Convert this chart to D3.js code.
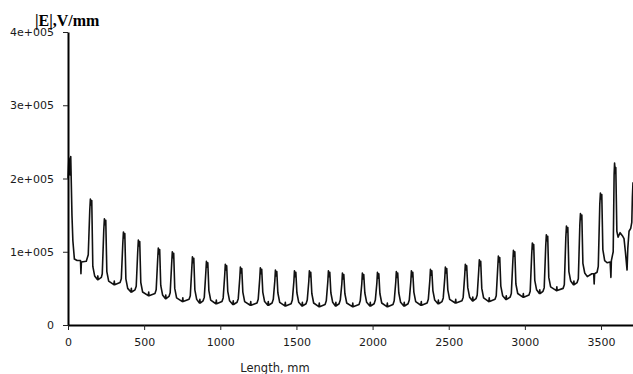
<!DOCTYPE html>
<html>
<head>
<meta charset="utf-8">
<script src="https://cdn.jsdelivr.net/npm/d3@7"></script>
<style>
  html, body { margin: 0; padding: 0; background: #fff; }
  svg { display: block; }
</style>
</head>
<body>
<svg id="chart" width="633" height="374"></svg>
<script>
// ---- data ----
const lengthMm = [
  0, 6, 12, 18, 26, 32, 42, 60, 82, 85, 88, 120,
  133, 143, 147, 152, 156, 163, 175, 193, 196, 198, 219,
  225, 235, 239, 244, 248, 255, 267, 301, 304, 306, 342,
  350, 360, 364, 369, 373, 380, 392, 413, 416, 418, 440,
  448, 458, 462, 467, 471, 478, 490, 527, 530, 532, 571,
  579, 589, 593, 598, 602, 609, 621, 639, 642, 644, 663,
  671, 681, 685, 690, 694, 701, 713, 751, 754, 756, 795,
  803, 813, 817, 822, 826, 833, 845, 863, 866, 868, 887,
  895, 905, 909, 914, 918, 925, 937, 971, 974, 976, 1011,
  1019, 1029, 1033, 1038, 1042, 1049, 1061, 1082, 1085, 1087, 1110,
  1118, 1128, 1132, 1137, 1141, 1148, 1160, 1197, 1200, 1202, 1241,
  1249, 1259, 1263, 1268, 1272, 1279, 1291, 1312, 1315, 1317, 1340,
  1348, 1358, 1362, 1367, 1371, 1378, 1390, 1424, 1427, 1429, 1465,
  1473, 1483, 1487, 1492, 1496, 1503, 1515, 1536, 1539, 1541, 1563,
  1571, 1581, 1585, 1590, 1594, 1601, 1613, 1647, 1650, 1652, 1688,
  1696, 1706, 1710, 1715, 1719, 1726, 1738, 1756, 1759, 1761, 1780,
  1788, 1798, 1802, 1807, 1811, 1818, 1830, 1867, 1870, 1872, 1911,
  1919, 1929, 1933, 1938, 1942, 1949, 1961, 1982, 1985, 1987, 2010,
  2018, 2028, 2032, 2037, 2041, 2048, 2060, 2094, 2097, 2099, 2134,
  2142, 2152, 2156, 2161, 2165, 2172, 2184, 2205, 2208, 2210, 2233,
  2241, 2251, 2255, 2260, 2264, 2271, 2283, 2317, 2320, 2322, 2358,
  2366, 2376, 2380, 2385, 2389, 2396, 2408, 2429, 2432, 2434, 2456,
  2464, 2474, 2478, 2483, 2487, 2494, 2506, 2543, 2546, 2548, 2587,
  2595, 2605, 2609, 2614, 2618, 2625, 2637, 2655, 2658, 2660, 2679,
  2687, 2697, 2701, 2706, 2710, 2717, 2729, 2763, 2766, 2768, 2804,
  2812, 2822, 2826, 2831, 2835, 2842, 2854, 2875, 2878, 2880, 2903,
  2911, 2921, 2925, 2930, 2934, 2941, 2953, 2987, 2990, 2992, 3027,
  3035, 3045, 3049, 3054, 3058, 3065, 3077, 3095, 3098, 3100, 3119,
  3127, 3137, 3141, 3146, 3150, 3157, 3169, 3207, 3210, 3212, 3251,
  3259, 3269, 3273, 3278, 3282, 3289, 3301, 3319, 3322, 3324, 3343,
  3351, 3361, 3365, 3370, 3374, 3381, 3393, 3410, 3440, 3452, 3455, 3458, 3474,
  3482, 3492, 3496, 3501, 3505, 3512, 3524, 3540, 3560, 3565, 3568, 3576,
  3580, 3586, 3589, 3594, 3597, 3604, 3612, 3625, 3640, 3651, 3660, 3671, 3676, 3684, 3695, 3702, 3706, 3710
];
const fieldVPerMm = [
  200000, 228000, 205000, 230000, 150000, 115000, 90000, 88000, 88000, 70000, 86000, 87000,
  96000, 157000, 172000, 164000, 170000, 80000, 67000, 62000, 67000, 62000, 65000,
  70000, 130000, 145000, 137000, 143000, 73000, 60000, 55000, 60000, 55000, 58000,
  63000, 112000, 127000, 119000, 125000, 63000, 50000, 45000, 50000, 45000, 48000,
  53000, 101000, 116000, 108000, 114000, 58000, 45000, 40000, 45000, 40000, 43000,
  48000, 90000, 105000, 97000, 103000, 54000, 41000, 36000, 41000, 36000, 39000,
  44000, 85000, 100000, 92000, 98000, 50000, 37000, 32000, 37000, 32000, 35000,
  40000, 78000, 93000, 85000, 91000, 48000, 35000, 30000, 35000, 30000, 33000,
  38000, 72000, 87000, 79000, 85000, 47000, 34000, 29000, 34000, 29000, 32000,
  37000, 68000, 83000, 75000, 81000, 46000, 33000, 28000, 33000, 28000, 31000,
  36000, 64000, 79000, 71000, 77000, 45000, 32000, 27000, 32000, 27000, 30000,
  35000, 63000, 78000, 70000, 76000, 45000, 32000, 27000, 32000, 27000, 30000,
  35000, 60000, 75000, 67000, 73000, 44000, 31000, 26000, 31000, 26000, 29000,
  34000, 59000, 74000, 66000, 72000, 44000, 31000, 26000, 31000, 26000, 29000,
  34000, 59000, 74000, 66000, 72000, 43000, 30000, 25000, 30000, 25000, 28000,
  33000, 59000, 74000, 66000, 72000, 44000, 31000, 26000, 31000, 26000, 29000,
  34000, 56000, 71000, 63000, 69000, 43000, 30000, 25000, 30000, 25000, 28000,
  33000, 56000, 71000, 63000, 69000, 44000, 31000, 26000, 31000, 26000, 29000,
  34000, 57000, 72000, 64000, 70000, 43000, 30000, 25000, 30000, 25000, 28000,
  33000, 58000, 73000, 65000, 71000, 44000, 31000, 26000, 31000, 26000, 29000,
  34000, 59000, 74000, 66000, 72000, 45000, 32000, 27000, 32000, 27000, 30000,
  35000, 61000, 76000, 68000, 74000, 47000, 34000, 29000, 34000, 29000, 32000,
  37000, 64000, 79000, 71000, 77000, 48000, 35000, 30000, 35000, 30000, 33000,
  38000, 68000, 83000, 75000, 81000, 51000, 38000, 33000, 38000, 33000, 36000,
  41000, 74000, 89000, 81000, 87000, 50000, 37000, 32000, 37000, 32000, 35000,
  40000, 79000, 94000, 86000, 92000, 53000, 40000, 35000, 40000, 35000, 38000,
  43000, 87000, 102000, 94000, 100000, 56000, 43000, 38000, 43000, 38000, 41000,
  46000, 97000, 112000, 104000, 110000, 61000, 48000, 43000, 48000, 43000, 46000,
  51000, 108000, 123000, 115000, 121000, 65000, 52000, 47000, 52000, 47000, 50000,
  55000, 120000, 135000, 127000, 133000, 73000, 60000, 55000, 60000, 55000, 58000,
  63000, 137000, 152000, 144000, 150000, 84000, 71000, 66000, 70000, 70000, 56000, 70000, 72000,
  80000, 165000, 180000, 172000, 178000, 103000, 88000, 85000, 86000, 65000, 88000, 96000,
  100000, 205000, 221000, 207000, 215000, 128000, 120000, 126000, 122000, 118000, 100000, 75000, 105000, 128000, 132000, 140000, 175000, 195000
];
const xTickValues = [0, 500, 1000, 1500, 2000, 2500, 3000, 3500];
const yTickValues = [0, 100000, 200000, 300000, 400000];
const yTickLabels = ["0", "1e+005", "2e+005", "3e+005", "4e+005"];
const xDomain = [0, 3710];
const yDomain = [0, 400000];
const yTitle = "|E|,V/mm";
const xTitle = "Length, mm";

// ---- drawing ----
const svg = d3.select("#chart");
const x = d3.scaleLinear().domain(xDomain).range([68, 633]);
const y = d3.scaleLinear().domain(yDomain).range([325, 32]);

const points = lengthMm.map((v, i) => [v, fieldVPerMm[i]]);

const line = d3.line().x(d => x(d[0])).y(d => y(d[1]));
svg.append("path")
  .datum(points)
  .attr("d", line)
  .attr("fill", "none")
  .attr("stroke", "#111")
  .attr("stroke-width", 1.6)
  .attr("stroke-linejoin", "round");

const fontFam = "'DejaVu Sans', Verdana, sans-serif";

const yAxis = d3.axisLeft(y)
  .tickValues(yTickValues)
  .tickFormat((d, i) => yTickLabels[i])
  .tickSizeInner(5).tickSizeOuter(0).tickPadding(9);
const gy = svg.append("g").attr("transform", "translate(68,0)").call(yAxis);

const xAxis = d3.axisBottom(x)
  .tickValues(xTickValues)
  .tickFormat(d3.format("d"))
  .tickSizeInner(5).tickSizeOuter(0).tickPadding(8);
const gx = svg.append("g").attr("transform", "translate(0,325)").call(xAxis);

[gx, gy].forEach(g => {
  g.select(".domain").attr("stroke", "#000").attr("stroke-width", 2);
  g.selectAll(".tick line").attr("stroke", "#222").attr("stroke-width", 1);
  g.selectAll(".tick text")
    .attr("fill", "#1a1a1a")
    .style("font-family", fontFam)
    .style("font-size", "11px");
});

// Axis titles
svg.append("rect").attr("x", 34).attr("y", 10).attr("width", 72).attr("height", 18).attr("fill", "#fff");
svg.append("text")
  .attr("x", 35).attr("y", 26)
  .style("font-family", "'Liberation Serif', 'Times New Roman', serif")
  .style("font-weight", "bold")
  .style("font-size", "16px")
  .attr("fill", "#000")
  .text(yTitle);

svg.append("text")
  .attr("x", 275).attr("y", 372)
  .attr("text-anchor", "middle")
  .style("font-family", fontFam)
  .style("font-size", "11.5px")
  .attr("fill", "#222")
  .text(xTitle);
</script>
</body>
</html>
